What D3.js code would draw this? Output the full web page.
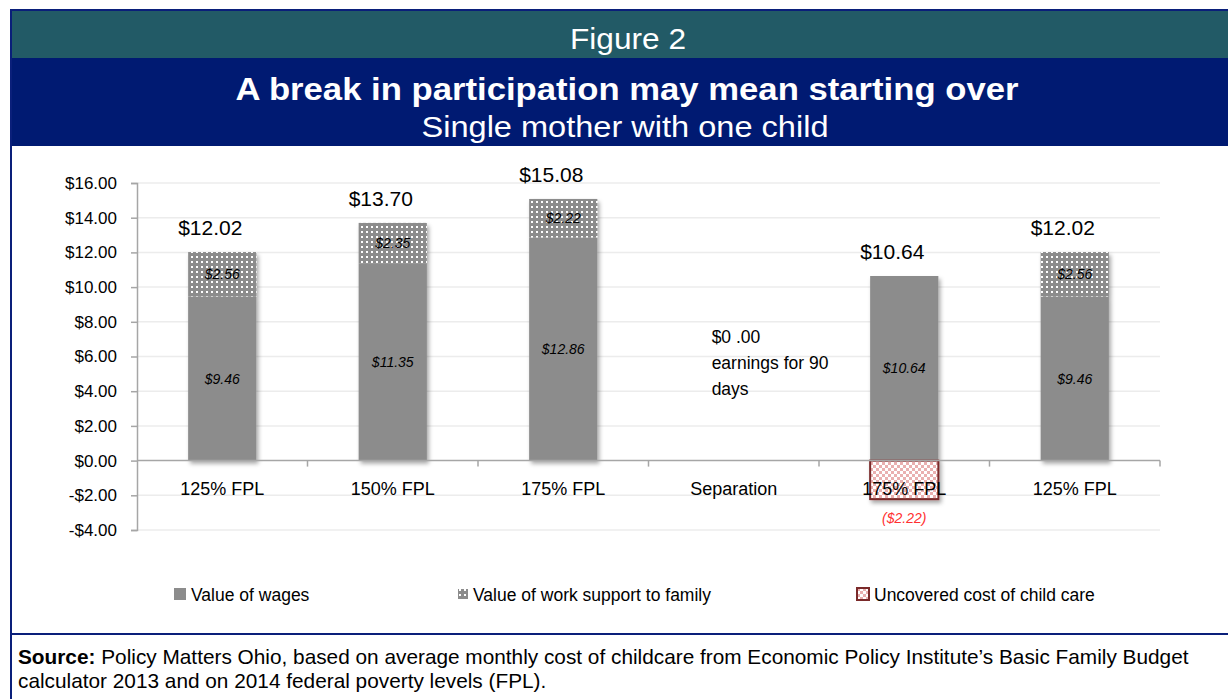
<!DOCTYPE html>
<html>
<head>
<meta charset="utf-8">
<script src="https://cdn.jsdelivr.net/npm/d3@7"></script>
<style>
  body { margin: 0; background: #fff; }
  text { font-family: "Liberation Sans", Arial, sans-serif; }
</style>
</head>
<body>
<svg id="chart" width="1228" height="699"></svg>
<script>
// data
var categories = ["125% FPL", "150% FPL", "175% FPL", "Separation", "175% FPL", "125% FPL"];
var wages = [9.46, 11.35, 12.86, 0, 10.64, 9.46];
var support = [2.56, 2.35, 2.22, 0, 0, 2.56];
var uncovered = [0, 0, 0, 0, -2.22, 0];
var totals = [12.02, 13.70, 15.08, null, 10.64, 12.02];
var yTicks = [-4, -2, 0, 2, 4, 6, 8, 10, 12, 14, 16];
var legendNames = ["Value of wages", "Value of work support to family", "Uncovered cost of child care"];
var sepNote = ["$0 .00", "earnings for 90", "days"];

var svg = d3.select("#chart");
var W = 1228, H = 699;
var idx = d3.range(categories.length);
var money = function(v) { return "$" + v.toFixed(2); };

var defs = svg.append("defs");
// dotted pattern for work support
var dots = defs.append("pattern").attr("id", "dots")
    .attr("width", 5).attr("height", 5).attr("patternUnits", "userSpaceOnUse");
dots.append("rect").attr("width", 5).attr("height", 5).attr("fill", "#8c8c8c");
dots.append("rect").attr("x", 1).attr("y", 1).attr("width", 2).attr("height", 2).attr("fill", "#fff");

// checker for uncovered child care
var chk = defs.append("pattern").attr("id", "chk")
    .attr("width", 6).attr("height", 6).attr("patternUnits", "userSpaceOnUse");
chk.append("rect").attr("width", 6).attr("height", 6).attr("fill", "#fff");
chk.append("rect").attr("width", 3).attr("height", 3).attr("fill", "#eab0b0");
chk.append("rect").attr("x", 3).attr("y", 3).attr("width", 3).attr("height", 3).attr("fill", "#eab0b0");

var shadow = defs.append("filter").attr("id", "shadow")
    .attr("x", "-20%").attr("y", "-20%").attr("width", "150%").attr("height", "150%");
shadow.append("feDropShadow").attr("dx", 2).attr("dy", 3).attr("stdDeviation", 2)
    .attr("flood-color", "#000").attr("flood-opacity", 0.35);

// frame + header bands
svg.append("rect").attr("x", 11).attr("y", 10).attr("width", W).attr("height", H)
    .attr("fill", "#fff").attr("stroke", "#0a1f7a").attr("stroke-width", 2);
svg.append("rect").attr("x", 12).attr("y", 11).attr("width", W).attr("height", 47).attr("fill", "#225a66");
svg.append("rect").attr("x", 12).attr("y", 58).attr("width", W).attr("height", 88).attr("fill", "#001a72");
svg.append("line").attr("x1", 11).attr("x2", W).attr("y1", 634).attr("y2", 634)
    .attr("stroke", "#0a1f7a").attr("stroke-width", 2);

svg.append("text").attr("x", 628).attr("y", 49).attr("text-anchor", "middle")
    .attr("fill", "#fff").style("font-size", "30px")
    .attr("textLength", 116).attr("lengthAdjust", "spacingAndGlyphs").text("Figure 2");
svg.append("text").attr("x", 627).attr("y", 100).attr("text-anchor", "middle")
    .attr("fill", "#fff").style("font-size", "31px").style("font-weight", "bold")
    .attr("textLength", 783).attr("lengthAdjust", "spacingAndGlyphs")
    .text("A break in participation may mean starting over");
svg.append("text").attr("x", 625).attr("y", 137).attr("text-anchor", "middle")
    .attr("fill", "#fff").style("font-size", "29px")
    .attr("textLength", 407).attr("lengthAdjust", "spacingAndGlyphs")
    .text("Single mother with one child");

// scales
var x = d3.scaleBand().domain(idx).range([137, 1160]).paddingInner(0.6).paddingOuter(0.3);
var y = d3.scaleLinear().domain([-4, 16]).range([530, 183]);
var cx = function(i) { return x(i) + x.bandwidth() / 2; };

var g = svg.append("g");

// gridlines
g.selectAll(".grid").data(yTicks.filter(function(d) { return d !== 0; })).enter()
  .append("line")
    .attr("x1", 137).attr("x2", 1160)
    .attr("y1", function(d) { return y(d); }).attr("y2", function(d) { return y(d); })
    .attr("stroke", "#ececec").attr("stroke-width", 1.5);

// y axis
var yAxis = d3.axisLeft(y).tickValues(yTicks).tickSize(6).tickPadding(14)
    .tickFormat(function(d) { return (d < 0 ? "-$" : "$") + Math.abs(d).toFixed(2); });
var ya = g.append("g").attr("transform", "translate(137,0)").call(yAxis);
ya.select(".domain").attr("stroke", "#a6a6a6").attr("stroke-width", 1.5);
ya.selectAll(".tick line").attr("stroke", "#a6a6a6").attr("stroke-width", 1.5);
ya.selectAll(".tick text").attr("fill", "#000").style("font-size", "17px")
    .style("font-family", "'Liberation Sans', Arial, sans-serif");

// bars
var step = x.step();
var bars = g.selectAll(".bar").data(idx.filter(function(i) { return wages[i] > 0; })).enter()
  .append("g").attr("filter", "url(#shadow)");
bars.append("rect")
    .attr("x", function(i) { return x(i); }).attr("width", x.bandwidth())
    .attr("y", function(i) { return y(wages[i]); })
    .attr("height", function(i) { return y(0) - y(wages[i]); })
    .attr("fill", "#8c8c8c");
bars.filter(function(i) { return support[i] > 0; }).append("rect")
    .attr("x", function(i) { return x(i); }).attr("width", x.bandwidth())
    .attr("y", function(i) { return y(wages[i] + support[i]); })
    .attr("height", function(i) { return y(wages[i]) - y(wages[i] + support[i]); })
    .attr("fill", "url(#dots)");
bars.filter(function(i) { return uncovered[i] < 0; }).append("rect")
    .attr("x", function(i) { return x(i); }).attr("width", x.bandwidth())
    .attr("y", y(0))
    .attr("height", function(i) { return y(uncovered[i]) - y(0); })
    .attr("fill", "url(#chk)").attr("stroke", "#7a2a2a").attr("stroke-width", 2);

// x axis line at zero with ticks between categories
g.append("line").attr("x1", 137).attr("x2", 1160).attr("y1", y(0)).attr("y2", y(0))
    .attr("stroke", "#a6a6a6").attr("stroke-width", 1.5);
g.selectAll(".xtick").data(d3.range(1, categories.length + 1)).enter().append("line")
    .attr("x1", function(i) { return 137 + i * step; }).attr("x2", function(i) { return 137 + i * step; })
    .attr("y1", y(0)).attr("y2", y(0) + 6)
    .attr("stroke", "#a6a6a6").attr("stroke-width", 1.5);

// segment labels
g.selectAll(".wl").data(idx.filter(function(i) { return wages[i] > 0; })).enter().append("text")
    .attr("x", cx)
    .attr("y", function(i) { return y(wages[i] / 2) + 5; })
    .attr("text-anchor", "middle").style("font-size", "14px").style("font-style", "italic")
    .text(function(i) { return money(wages[i]); });
g.selectAll(".sl").data(idx.filter(function(i) { return support[i] > 0; })).enter().append("text")
    .attr("x", cx)
    .attr("y", function(i) { return y(wages[i] + support[i] / 2) + 5; })
    .attr("text-anchor", "middle").style("font-size", "14px").style("font-style", "italic")
    .text(function(i) { return money(support[i]); });

// totals
g.selectAll(".tot").data(idx.filter(function(i) { return totals[i] !== null; })).enter().append("text")
    .attr("x", function(i) { return cx(i) - 12; })
    .attr("y", function(i) { return y(totals[i]) - 17; })
    .attr("text-anchor", "middle").style("font-size", "21px")
    .text(function(i) { return money(totals[i]); });

// category labels
g.selectAll(".cat").data(idx).enter().append("text")
    .attr("x", cx)
    .attr("y", y(0) + 34)
    .attr("text-anchor", "middle").style("font-size", "18px")
    .text(function(i) { return categories[i]; });

// negative label
g.selectAll(".neg").data(idx.filter(function(i) { return uncovered[i] < 0; })).enter().append("text")
    .attr("x", cx).attr("y", function(i) { return y(uncovered[i]) + 24; })
    .attr("text-anchor", "middle").attr("fill", "#ff3030").style("font-size", "14px")
    .style("font-style", "italic").text(function(i) { return "(" + money(Math.abs(uncovered[i])) + ")"; });

// separation note
g.selectAll(".note").data(sepNote).enter().append("text")
    .attr("x", x(3) + 12).attr("y", function(d, i) { return 343 + i * 26; })
    .style("font-size", "17.5px").text(function(d) { return d; });

// legend
var legX = [174, 458, 857];
var leg = g.selectAll(".leg").data(legendNames).enter().append("g")
    .attr("transform", function(d, i) { return "translate(" + legX[i] + ",588)"; });
leg.append("rect").attr("width", function(d, i) { return i === 1 ? 10 : 12; })
    .attr("height", function(d, i) { return i === 1 ? 10 : 12; })
    .attr("y", function(d, i) { return i === 1 ? 1 : 0; })
    .attr("fill", function(d, i) { return i === 0 ? "#8c8c8c" : i === 1 ? "url(#dots)" : "url(#chk)"; })
    .attr("stroke", function(d, i) { return i === 2 ? "#7a2a2a" : "none"; })
    .attr("stroke-width", 2);
leg.append("text").attr("x", function(d, i) { return i === 1 ? 15 : 17; }).attr("y", 13)
    .style("font-size", "17.5px").text(function(d) { return d; });

// source
var src = svg.append("text").attr("x", 18).attr("y", 664).style("font-size", "20.8px");
src.append("tspan").style("font-weight", "bold").text("Source:");
src.append("tspan").text(" Policy Matters Ohio, based on average monthly cost of childcare from Economic Policy  Institute\u2019s Basic Family Budget");
svg.append("text").attr("x", 18).attr("y", 688).style("font-size", "20.8px")
    .text("calculator 2013 and on 2014 federal poverty levels (FPL).");
</script>
</body>
</html>
